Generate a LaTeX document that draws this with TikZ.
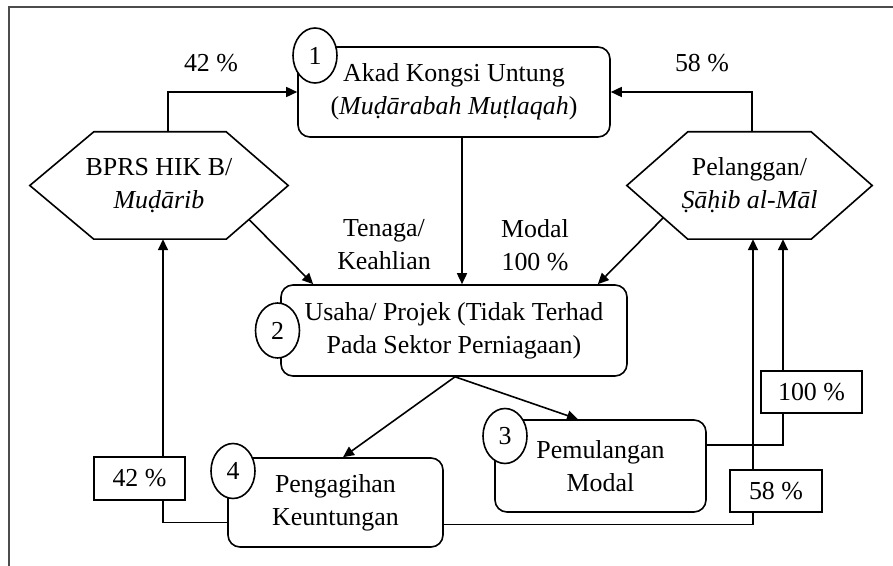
\documentclass[tikz,border=0pt]{standalone}
\usepackage{fontspec}
\setmainfont{Liberation Serif}
\usetikzlibrary{shapes.geometric,arrows.meta,calc}
\begin{document}
\begin{tikzpicture}[x=1bp,y=-1bp,
  txt/.style={font=\fontsize{26}{33}\selectfont, align=center, inner sep=0pt},
  box/.style={txt, draw, line width=1.6bp, rounded corners=12bp, fill=white},
  hexline/.style={draw, line width=1.6bp, line join=miter},
  num/.style={txt, ellipse, draw, fill=white, line width=1.6bp, minimum width=44bp, minimum height=55bp},
  lab/.style={txt, draw, fill=white, line width=1.6bp, rectangle},
  arr/.style={line width=1.6bp, -{Triangle[length=11bp,width=10bp]}},
  frame/.style={line width=1.6bp, draw=black!70}
]
\useasboundingbox (0,0) rectangle (893,566);
\draw[frame] (9,566) -- (9,7) -- (893,7);

% hexagons
\node[txt, minimum width=258bp, minimum height=107bp] (bprs) at (159,185.5) {BPRS HIK B/\\\textit{Muḍārib}};
\node[txt, minimum width=245bp, minimum height=107bp] (pel) at (749.5,185.5) {Pelanggan/\\\textit{Ṣāḥib al-Māl}};
\draw[hexline] (bprs.west) -- ([xshift=64bp]bprs.north west) -- ([xshift=-62bp]bprs.north east) -- (bprs.east) -- ([xshift=-62bp]bprs.south east) -- ([xshift=64bp]bprs.south west) -- cycle;
\draw[hexline] (pel.west) -- ([xshift=61bp]pel.north west) -- ([xshift=-61bp]pel.north east) -- (pel.east) -- ([xshift=-61bp]pel.south east) -- ([xshift=61bp]pel.south west) -- cycle;

% boxes
\node[box, minimum width=312bp, minimum height=90bp] (b1) at (454,92) {Akad Kongsi Untung\\(\textit{Muḍārabah Muṭlaqah})};
\node[box, minimum width=346bp, minimum height=91bp] (b2) at (454,330.5) {Usaha/ Projek (Tidak Terhad\\Pada Sektor Perniagaan)};
\node[box, minimum width=211bp, minimum height=92bp] (b3) at (600.5,466) {Pemulangan\\Modal};
\node[box, minimum width=215bp, minimum height=89bp] (b4) at (335.5,502.5) {Pengagihan\\Keuntungan};

% free labels
\node[txt] (l42) at (211,63) {42 \%};
\node[txt] (l58) at (702,63) {58 \%};
\node[txt] (tenaga) at (384,245) {Tenaga/\\Keahlian};
\node[txt] (modal) at (535,245) {Modal\\100 \%};

% connectors
\draw[arr] ([xshift=9bp]bprs.north) |- (b1.west);
\draw[arr] ([xshift=2.5bp]pel.north) |- (b1.east);
\draw[arr] ([xshift=8bp]b1.south) -- ([xshift=8bp]b1.south |- b2.north);
\draw[arr] ($(bprs.center)+(90,34)$) -- ($(b2.north west)+(33,0)$);
\draw[arr] ($(pel.center)+(-86,32)$) -- ($(b2.north east)+(-30,0)$);
\draw[arr] ([xshift=1bp]b2.south) -- ([xshift=7.5bp]b4.north);
\draw[arr] ([xshift=1bp]b2.south) -- ([xshift=-22.5bp]b3.north);
\draw[arr] ([yshift=-20bp]b4.west) -| ([xshift=4bp]bprs.south);
\draw[arr] ([yshift=-22bp]b4.east) -| ([xshift=3.5bp]pel.south);
\draw[arr] ([yshift=21bp]b3.east) -| ([xshift=33.5bp]pel.south);

% label boxes on lines
\node[lab, minimum width=91bp, minimum height=43bp] (p42) at (139.5,478.5) {42 \%};
\node[lab, minimum width=92bp, minimum height=42bp] (p58) at (776,491) {58 \%};
\node[lab, minimum width=101bp, minimum height=42bp] (p100) at (811.5,392) {100 \%};

% number ellipses
\node[num] (n1) at (315,55.5) {1};
\node[num] (n2) at (277.5,330.5) {2};
\node[num] (n3) at (505,436) {3};
\node[num] (n4) at (233,471) {4};
\end{tikzpicture}
\end{document}
